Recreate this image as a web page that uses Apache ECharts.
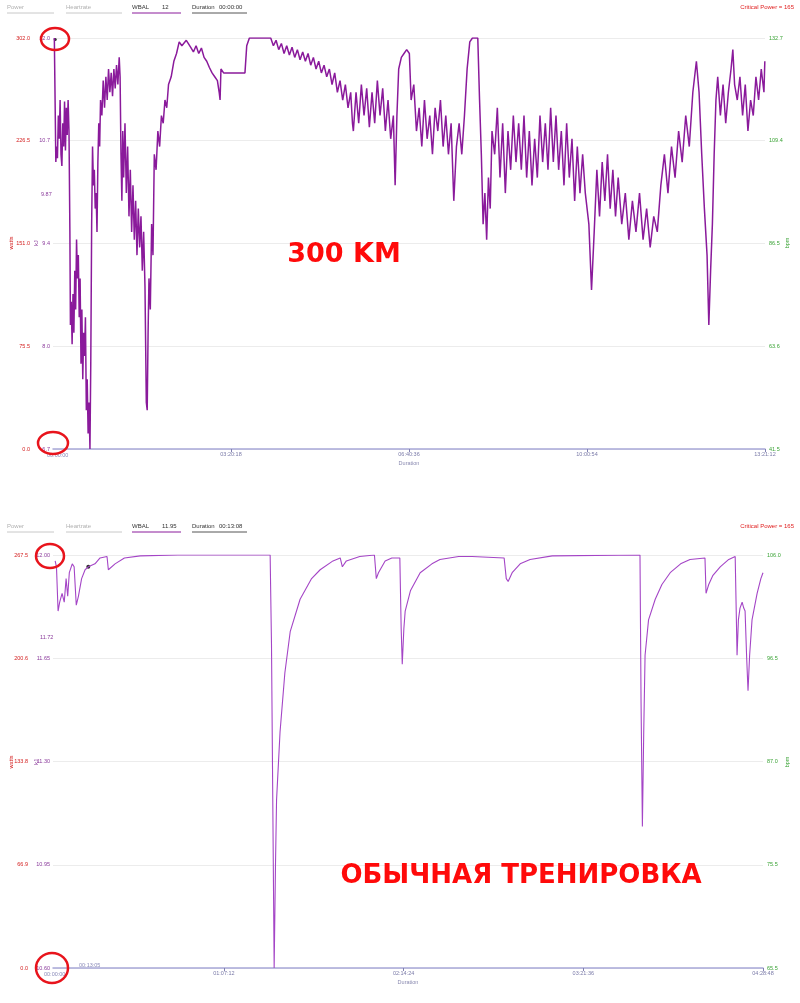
<!DOCTYPE html>
<html><head><meta charset="utf-8">
<script src="https://cdn.jsdelivr.net/npm/echarts@6/dist/echarts.min.js"></script>
<style>html,body{margin:0;padding:0;background:#fff}#c{width:800px;height:1003px}</style>
</head><body><div id="c"></div>
<script>
// ---------- DATA ----------
// Top chart (300 km ride): time in minutes, W'bal in kJ
const topWbal = [
[1.5,12.0],[2.5,11.98],[3.2,10.4],[4.0,10.6],[5.0,10.45],[6.0,11.0],[7.0,10.7],[8.0,11.2],[9.0,10.5],[10.0,10.35],
[11.0,10.9],[12.0,10.6],[13.0,11.18],[14.0,10.55],[15.0,11.1],[16.0,10.75],[17.0,11.2],[18.0,10.8],[19.0,9.5],[19.6,8.3],
[20.5,8.6],[21.5,8.05],[22.5,8.7],[23.5,8.2],[24.5,9.0],[25.5,8.5],[26.5,9.4],[27.5,8.9],[28.5,9.2],[29.5,8.4],
[30.5,8.9],[31.5,7.8],[32.5,8.5],[33.5,7.6],[34.5,8.2],[35.5,7.9],[36.5,8.4],[37.5,7.2],[38.5,7.6],[39.5,6.9],
[40.5,7.3],[41.6,6.7],[42.5,7.8],[43.5,9.6],[44.5,10.6],[45.5,10.1],[46.5,10.3],[47.5,9.8],[48.5,10.0],[49.5,9.5],
[50.5,10.4],[51.5,10.9],[52.5,10.6],[53.5,11.2],[55,11.0],[56.5,11.45],[58,11.1],[59.5,11.5],[61,11.2],[62.5,11.6],
[64,11.3],[65.5,11.55],[67,11.25],[68.5,11.6],[70,11.35],[71.5,11.65],[73,11.4],[74.5,11.75],[75.5,11.5],[76.5,10.5],
[77.5,9.9],[78.5,10.8],[79.5,10.2],[81,10.9],[82.5,10.0],[84,10.6],[85.5,9.7],[87,10.3],[88.5,9.5],[90,10.1],
[91.5,9.4],[93,9.9],[94.5,9.2],[96,9.8],[97.5,9.3],[99,9.7],[100.5,9.0],[102,9.5],[103.5,8.8],[105,7.3],
[106,7.2],[107,8.2],[108,8.9],[109.5,8.5],[111,9.6],[112.5,9.2],[114,10.5],[116,10.3],[118,10.8],[120,10.6],
[122,11.0],[124,10.9],[126,11.2],[128,11.1],[130,11.4],[133,11.5],[136,11.7],[139,11.8],[142,11.95],[145,11.9],
[150,11.97],[155,11.88],[158,11.82],[161,11.9],[164,11.8],[167,11.87],[170,11.75],[173,11.7],[176,11.62],[179,11.55],
[182,11.5],[185,11.45],[187,11.3],[188,11.2],[189,11.6],[192,11.55],[216,11.55],[218,11.9],[221,12.0],[245,12.0],
[248,11.9],[251,11.97],[254,11.85],[257,11.93],[260,11.8],[263,11.9],[266,11.78],[269,11.88],[272,11.75],[275,11.85],
[278,11.72],[281,11.82],[284,11.7],[287,11.8],[290,11.65],[293,11.75],[296,11.6],[299,11.7],[302,11.55],[305,11.65],
[308,11.5],[311,11.6],[314,11.4],[317,11.55],[320,11.3],[323,11.45],[326,11.2],[329,11.4],[332,11.1],[335,11.3],
[337,10.9],[338,10.8],[341,11.3],[344,10.9],[347,11.4],[350,11.0],[353,11.35],[356,10.85],[359,11.3],[362,10.9],
[365,11.45],[368,11.0],[371,11.35],[374,10.8],[377,11.2],[380,10.7],[383,11.0],[385,10.1],[387,11.0],[389,11.6],
[392,11.75],[395,11.8],[398,11.85],[401,11.8],[403,11.2],[406,11.4],[409,10.8],[412,11.1],[415,10.6],[418,11.2],
[421,10.7],[424,11.0],[427,10.5],[430,11.1],[433,10.8],[436,11.2],[439,10.6],[442,11.0],[445,10.5],[448,10.9],
[451,9.9],[454,10.6],[457,10.9],[460,10.5],[463,11.0],[466,11.6],[469,11.95],[472,12.0],[478,12.0],[480,11.2],
[482,10.5],[484,9.6],[486,10.0],[488,9.4],[490,10.2],[492,9.8],[494,10.8],[497,10.5],[500,11.1],[503,10.2],
[506,10.9],[509,10.0],[512,10.8],[515,10.3],[518,11.0],[521,10.4],[524,10.9],[527,10.3],[530,11.0],[533,10.2],
[536,10.8],[539,10.1],[542,10.7],[545,10.2],[548,11.0],[551,10.4],[554,10.9],[557,10.3],[560,11.1],[563,10.4],
[566,11.0],[569,10.3],[572,10.8],[575,10.1],[578,10.9],[581,10.2],[584,10.7],[587,9.9],[590,10.6],[593,10.0],
[596,10.5],[599,10.0],[603,9.6],[606,8.75],[609,9.5],[612,10.3],[615,9.7],[618,10.4],[621,9.9],[624,10.5],
[627,9.8],[630,10.3],[633,9.7],[636,10.2],[640,9.6],[644,10.0],[648,9.4],[652,9.9],[656,9.5],[660,10.0],
[664,9.4],[668,9.8],[672,9.3],[676,9.7],[680,9.5],[684,10.1],[688,10.5],[692,10.0],[696,10.6],[700,10.2],
[704,10.8],[708,10.4],[712,11.0],[716,10.6],[720,11.3],[724,11.7],[727,11.3],[730,10.5],[733,9.8],[736,9.2],
[738,8.3],[740,9.0],[742,9.6],[744,10.5],[746,11.2],[748,11.5],[751,11.0],[754,11.4],[757,10.9],[760,11.3],
[763,11.6],[765,11.85],[767,11.4],[770,11.2],[773,11.5],[776,11.0],[779,11.4],[782,10.8],[785,11.2],[788,11.0],
[791,11.5],[794,11.2],[797,11.6],[800,11.3],[801,11.7]
];
const topMarker = [[2.5,11.98]];
const topWattsTicks = ['0.0','75.5','151.0','226.5','302.0'];
const topWbalTicks = ['6.7','8.0','9.4','10.7','12.0'];
const topBpmTicks = ['41.5','63.6','86.5','109.4','132.7'];
const topTimeTicks = [200.3,400.6,600.9,801.2];

// Bottom chart (normal training)
const botWbal = [
[4.1,11.98],[4.6,11.96],[5.2,11.81],[5.8,11.84],[6.7,11.87],[7.5,11.84],[8.2,11.92],[8.8,11.86],[9.4,11.94],[10.5,11.97],
[11.2,11.96],[12.0,11.83],[12.8,11.86],[14.0,11.92],[15.3,11.95],[16.5,11.96],[19.0,11.97],[20.9,11.99],[23.5,11.995],[24.0,11.95],
[26.5,11.97],[30,11.99],[35.9,11.997],[50,12.0],[84.5,12.0],[85.0,11.7],[86.0,10.6],[86.5,10.95],[86.9,11.17],[88.2,11.4],
[90,11.6],[92,11.74],[95.7,11.85],[100,11.92],[103.2,11.95],[108,11.98],[110.7,11.99],[111.5,11.96],[113,11.98],[118,11.995],
[123.5,12.0],[124.2,11.92],[125,11.94],[127.5,11.98],[130,11.99],[133.0,11.99],[133.5,11.75],[133.9,11.63],[134.5,11.75],[135,11.81],
[137,11.88],[140.6,11.94],[145,11.97],[148,11.985],[155,11.995],[160,11.995],[172.0,11.99],[172.8,11.92],[173.5,11.91],[175,11.94],
[178,11.97],[181.7,11.985],[190,11.997],[222.8,12.0],[223.2,11.5],[223.7,11.08],[224.2,11.4],[224.7,11.66],[226,11.78],[228.5,11.85],
[231,11.9],[234.1,11.94],[238,11.97],[241.5,11.985],[247.1,11.99],[247.5,11.87],[248.5,11.9],[250,11.93],[252.8,11.96],[256,11.985],
[258.4,11.995],[259.1,11.66],[259.6,11.78],[260.2,11.82],[261.0,11.84],[261.6,11.82],[262.1,11.81],[262.7,11.65],[263.2,11.54],[263.8,11.66],
[264.7,11.78],[266.6,11.87],[268.0,11.92],[268.8,11.94]
];
const botMarker = [[16.5,11.96]];
const botWattsTicks = ['0.0','66.9','133.8','200.6','267.5'];
const botWbalTicks = ['10.60','10.95','11.30','11.65','12.00'];
const botBpmTicks = ['65.5','75.5','87.0','96.5','106.0'];
const botTimeTicks = [67.2,134.4,201.6,268.8];

// ---------- CHART ----------
const FONT = '"Liberation Sans", Arial, sans-serif';
const PURPLE = '#8a1a9b', PURPLE2 = '#a445c6', RED = '#d42020', GREEN = '#3aa335', AXISC = '#a8a8d8';
function fmtTime(m){
  const s = Math.floor(m*60+1e-6);
  const h = Math.floor(s/3600), mm = Math.floor((s%3600)/60), ss = s%60;
  return [h,mm,ss].map(v=>String(v).padStart(2,'0')).join(':');
}
function yAx(gi, pos, offset, ticks, color, showSplit, margin){
  return {
    type:'value', gridIndex:gi, position:pos, offset:offset,
    min:0, max:4, interval:1,
    axisLine:{show:false}, axisTick:{show:false},
    splitLine:{show:showSplit, lineStyle:{color:'#ececec', width:1}},
    axisLabel:{color:color, fontSize:5.5, fontFamily:FONT, margin:margin,
      formatter:(v)=>ticks[Math.round(v)]}
  };
}
function wAx(gi, ticks, min, max){
  return {
    type:'value', gridIndex:gi, position:'left', offset:0,
    min:min, max:max, interval:(max-min)/4,
    axisLine:{show:false}, axisTick:{show:false},
    splitLine:{show:true, lineStyle:{color:'#ececec', width:1}},
    axisLabel:{color:'#8a3a9b', fontSize:5.5, fontFamily:FONT, margin:3,
      formatter:(v)=>ticks[Math.round((v-min)/((max-min)/4))]}
  };
}
function xAx(gi, min, max, ticks){
  return {
    type:'value', gridIndex:gi, min:min, max:max,
    axisLine:{lineStyle:{color:AXISC, width:1.5}},
    axisTick:{customValues:ticks, length:3, lineStyle:{color:'#8080b0'}},
    splitLine:{show:false},
    axisLabel:{customValues:ticks, color:'#7a7aa8', fontSize:5.5, fontFamily:FONT, margin:2, formatter:fmtTime},
    name:'Duration', nameLocation:'middle', nameGap:11,
    nameTextStyle:{color:'#8a8ab0', fontSize:5.5, fontFamily:FONT}
  };
}
const chart = echarts.init(document.getElementById('c'), null, {renderer:'canvas'});

function header(y, wbal, dur){
  const t = (x, s, c) => ({type:'text', left:x, top:y-4, style:{text:s, fill:c, fontSize:6, fontFamily:FONT}});
  const l = (x1, x2, c) => ({type:'line', shape:{x1:x1, y1:y+5, x2:x2, y2:y+5}, style:{stroke:c, lineWidth:1}});
  return [
    t(7,'Power','#b0b0b0'), l(7,54,'#c8c8c8'),
    t(66,'Heartrate','#b0b0b0'), l(66,122,'#c8c8c8'),
    t(132,'WBAL','#333'), t(162,wbal,'#333'), l(132,181,PURPLE),
    t(192,'Duration','#333'), t(219,dur,'#333'), l(192,247,'#555'),
    {type:'text', right:6, top:y-4, style:{text:'Critical Power = 165', fill:'#e02020', fontSize:6, fontFamily:FONT}}
  ];
}
function rot(x, y, s, c){
  return {type:'text', x:x, y:y, rotation:Math.PI/2, style:{text:s, fill:c, fontSize:5.5, fontFamily:FONT, align:'center', verticalAlign:'middle'}};
}
function small(x, y, s, c){
  return {type:'text', left:x, top:y, style:{text:s, fill:c, fontSize:5.5, fontFamily:FONT}};
}
function circ(cx, cy, rx, ry){
  return {type:'ellipse', shape:{cx:cx, cy:cy, rx:rx, ry:ry}, style:{fill:'none', stroke:'#e8141c', lineWidth:2.5}, z:100};
}
function big(cx, cy, s, size){
  return {type:'text', x:cx, y:cy, z:100, style:{text:s, fill:'#ff0a0a', font:'900 '+size+'px "DejaVu Sans", Inter, sans-serif', align:'center', verticalAlign:'middle'}};
}

chart.setOption({
  animation:false,
  backgroundColor:'#fff',
  grid:[
    {left:53, right:35, top:38, height:411},
    {left:53, right:37, top:555, height:413}
  ],
  xAxis:[ xAx(0, 0, 801.2, topTimeTicks), xAx(1, 3.3, 268.8, botTimeTicks) ],
  yAxis:[
    wAx(0, topWbalTicks, 6.7, 12.0),
    yAx(0,'left',20,topWattsTicks,RED,false,3),
    yAx(0,'right',0,topBpmTicks,GREEN,false,4),
    wAx(1, botWbalTicks, 10.6, 12.0),
    yAx(1,'left',22,botWattsTicks,RED,false,3),
    yAx(1,'right',0,botBpmTicks,GREEN,false,4)
  ],
  series:[
    {type:'line', xAxisIndex:0, yAxisIndex:0, data:topWbal, showSymbol:false, lineStyle:{color:PURPLE, width:1.5}},
    {type:'line', xAxisIndex:1, yAxisIndex:3, data:botWbal, showSymbol:false, lineStyle:{color:PURPLE2, width:1.1}},
    {type:'scatter', xAxisIndex:0, yAxisIndex:0, data:topMarker, symbolSize:3, itemStyle:{color:'#000'}},
    {type:'scatter', xAxisIndex:1, yAxisIndex:3, data:botMarker, symbolSize:4, itemStyle:{color:'#000'}}
  ],
  graphic:[
    ...header(8,'12','00:00:00'),
    ...header(527,'11.95','00:13:08'),
    rot(11,243,'watts',RED), rot(36,243,'kJ','#8a3a9b'), rot(787,243,'bpm',GREEN),
    rot(11,762,'watts',RED), rot(36,762,'kJ','#8a3a9b'), rot(787,762,'bpm',GREEN),
    small(41,191,'9.87','#8a3a9b'), small(40,634,'11.72','#8a3a9b'),
    small(47,452,'00:00:00','#8a8ab8'), small(44,971,'00:00:00','#8a8ab8'), small(79,962,'00:13:05','#8a8ab8'),
    circ(55,39,14,11), circ(53,443,15,11), circ(50,556,14,12), circ(52,968,16,15),
    big(344,255,'300 KM',27), big(521,876,'ОБЫЧНАЯ ТРЕНИРОВКА',26)
  ]
});
</script></body></html>
